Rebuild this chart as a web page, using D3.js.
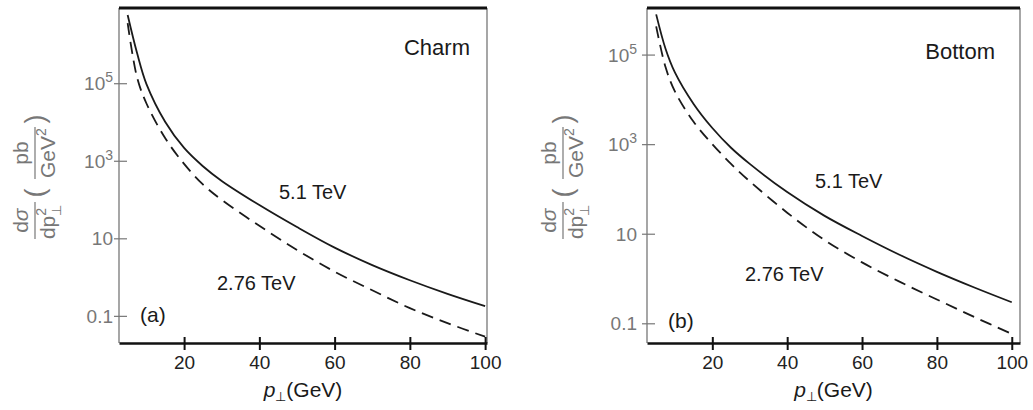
<!DOCTYPE html>
<html>
<head>
<meta charset="utf-8">
<script src="https://cdn.jsdelivr.net/npm/d3@7"></script>
<style>
  html, body { margin: 0; padding: 0; background: #fff; }
  svg { display: block; font-family: "Liberation Sans", Arial, sans-serif; }
</style>
</head>
<body>
<svg id="chart" width="1033" height="410"></svg>
<script>
// transverse momentum grid (GeV)
const pT = [5, 7.5, 10, 15, 20, 25, 30, 40, 50, 60, 70, 80, 90, 100];

// d sigma / d pT^2 (pb / GeV^2)
const charm51  = [5.75e6, 6.0e5, 9.5e4, 1.0e4, 2.14e3, 724, 302, 72, 19.5, 5.75, 2.04, 0.83, 0.37, 0.178];
const charm276 = [3.55e6, 1.41e5, 3.0e4, 3.8e3, 830, 245, 98, 21, 5.0, 1.38, 0.457, 0.158, 0.065, 0.029];
const bottom51  = [7.9e5, 1.35e5, 4.0e4, 7.9e3, 2.29e3, 832, 363, 85, 25, 8.9, 3.39, 1.41, 0.63, 0.295];
const bottom276 = [4.27e5, 5.25e4, 1.51e4, 3.16e3, 1.0e3, 363, 148, 29.5, 7.2, 2.29, 0.85, 0.34, 0.138, 0.058];

const xTicks = [20, 40, 60, 80, 100];
const yTicks = [0.1, 10, 1e3, 1e5];
const yTickBase = ['0.1', '10', '10', '10'];
const yTickExp = ['', '', '3', '5'];

const panels = [
  {
    left: 119, right: 487, top: 8, bottom: 343,
    xDomain: [2.7, 100.5], yDomain: [Math.pow(10, -1.70), Math.pow(10, 6.94)],
    solid: charm51, dashed: charm276,
    name: 'Charm', namePos: [470, 55],
    hiPos: [279, 199], loPos: [217, 290],
    tag: '(a)', tagPos: [140, 322],
    yLabelX: 113, yTitleX: 34
  },
  {
    left: 647, right: 1020, top: 8, bottom: 343,
    xDomain: [2.55, 102.2], yDomain: [Math.pow(10, -1.44), Math.pow(10, 6.04)],
    solid: bottom51, dashed: bottom276,
    name: 'Bottom', namePos: [995, 59],
    hiPos: [815, 188], loPos: [745, 281],
    tag: '(b)', tagPos: [668, 328],
    yLabelX: 637, yTitleX: 562
  }
];

const svg = d3.select('#chart');
const grey = '#777';
const ink = '#1a1a1a';

panels.forEach((cfg, i) => {
  const x = d3.scaleLinear().domain(cfg.xDomain).range([cfg.left, cfg.right]);
  const y = d3.scaleLog().domain(cfg.yDomain).range([cfg.bottom, cfg.top]);
  const g = svg.append('g');

  // clip for curves
  g.append('clipPath').attr('id', 'clip' + i)
    .append('rect')
    .attr('x', cfg.left).attr('y', cfg.top)
    .attr('width', cfg.right - cfg.left).attr('height', cfg.bottom - cfg.top);

  // curves
  const line = d3.line()
    .x(d => x(d[0]))
    .y(d => y(d[1]))
    .curve(d3.curveCatmullRom.alpha(0.5));

  g.append('path')
    .datum(pT.map((p, k) => [p, cfg.solid[k]]))
    .attr('clip-path', `url(#clip${i})`)
    .attr('d', line)
    .attr('fill', 'none')
    .attr('stroke', ink)
    .attr('stroke-width', 1.8);

  g.append('path')
    .datum(pT.map((p, k) => [p, cfg.dashed[k]]))
    .attr('clip-path', `url(#clip${i})`)
    .attr('d', line)
    .attr('fill', 'none')
    .attr('stroke', ink)
    .attr('stroke-width', 1.8)
    .attr('stroke-dasharray', '12,7');

  // frame: thin grey sides, heavy top and bottom
  g.append('line')
    .attr('x1', cfg.left).attr('x2', cfg.left)
    .attr('y1', cfg.top).attr('y2', cfg.bottom)
    .attr('stroke', grey).attr('stroke-width', 1.3);
  g.append('line')
    .attr('x1', cfg.right).attr('x2', cfg.right)
    .attr('y1', cfg.top).attr('y2', cfg.bottom)
    .attr('stroke', grey).attr('stroke-width', 1.3);
  g.append('line')
    .attr('x1', cfg.left).attr('x2', cfg.right)
    .attr('y1', cfg.top).attr('y2', cfg.top)
    .attr('stroke', '#111').attr('stroke-width', 3);

  // x axis
  const xAxisG = g.append('g')
    .attr('transform', `translate(0,${cfg.bottom})`)
    .call(d3.axisBottom(x).tickValues(xTicks).tickSizeInner(7).tickSizeOuter(0).tickPadding(8));
  xAxisG.select('.domain').attr('stroke', '#111').attr('stroke-width', 2.6);
  xAxisG.selectAll('.tick line')
    .attr('y1', -6).attr('y2', 7)
    .attr('stroke', '#111').attr('stroke-width', 2);
  xAxisG.selectAll('.tick text').remove();
  xAxisG.selectAll('.tick').append('text')
    .attr('y', 369 - cfg.bottom)
    .attr('text-anchor', 'middle')
    .attr('fill', '#222')
    .style('font-size', '19px')
    .style('font-family', 'inherit')
    .text(d => d);

  // y axis ticks
  const yAxisG = g.append('g')
    .attr('transform', `translate(${cfg.left},0)`)
    .call(d3.axisLeft(y).tickValues(yTicks).tickSizeInner(5).tickSizeOuter(0).tickFormat(''));
  yAxisG.select('.domain').remove();
  yAxisG.selectAll('.tick line')
    .attr('x1', -5).attr('x2', 8)
    .attr('stroke', grey).attr('stroke-width', 1.2);

  // y tick labels with superscripts
  yTicks.forEach((v, k) => {
    const t = g.append('text')
      .attr('x', cfg.yLabelX)
      .attr('y', y(v) + 7)
      .attr('text-anchor', 'end')
      .attr('fill', grey)
      .style('font-size', '19px')
      .text(yTickBase[k]);
    if (yTickExp[k]) {
      t.append('tspan')
        .attr('dy', -8)
        .style('font-size', '14px')
        .text(yTickExp[k]);
    }
  });

  // x axis title
  const xt = g.append('text')
    .attr('x', (cfg.left + cfg.right) / 2)
    .attr('y', 397)
    .attr('text-anchor', 'middle')
    .attr('fill', ink)
    .style('font-size', '21px');
  xt.append('tspan').style('font-style', 'italic').text('p');
  xt.append('tspan').attr('dy', 4).style('font-size', '13px').text('\u22A5');
  xt.append('tspan').attr('dy', -4).text('(GeV)');

  // y axis title: d sigma / d p^2 ( pb / GeV^2 )
  const yt = g.append('g')
    .attr('transform', `translate(${cfg.yTitleX},177) rotate(-90)`)
    .attr('fill', grey)
    .style('font-size', '21px');

  const num1 = yt.append('text').attr('y', -6);
  num1.append('tspan').text('d');
  num1.append('tspan').style('font-style', 'italic').text('\u03C3');
  const den1 = yt.append('text').attr('y', 21);
  den1.append('tspan').text('dp');
  den1.append('tspan').attr('dy', -9).style('font-size', '14px').text('2');
  den1.append('tspan').attr('dx', -8).attr('dy', 15).style('font-size', '13px').text('\u22A5');

  const num2 = yt.append('text').attr('y', -6).text('pb');
  const den2 = yt.append('text').attr('y', 21);
  den2.append('tspan').text('GeV');
  den2.append('tspan').attr('dy', -9).style('font-size', '14px').text('2');

  const centre = (sel, cx) => {
    const w = sel.node().getBBox().width;
    sel.attr('x', cx - w / 2);
    return w;
  };
  centre(num1, -43);
  centre(den1, -45);
  centre(num2, 24);
  const wGeV = centre(den2, 24);

  yt.append('line')
    .attr('x1', -62).attr('x2', -25).attr('y1', 1).attr('y2', 1)
    .attr('stroke', grey).attr('stroke-width', 1.2);
  yt.append('line')
    .attr('x1', 24 - wGeV / 2 - 1).attr('x2', 24 + wGeV / 2 + 1).attr('y1', 1).attr('y2', 1)
    .attr('stroke', grey).attr('stroke-width', 1.2);
  yt.append('text').attr('x', -16).attr('y', 10).attr('text-anchor', 'middle')
    .style('font-size', '27px').text('(');
  yt.append('text').attr('x', 58).attr('y', 10).attr('text-anchor', 'middle')
    .style('font-size', '27px').text(')');

  // in-plot labels
  g.append('text')
    .attr('x', cfg.namePos[0]).attr('y', cfg.namePos[1])
    .attr('text-anchor', 'end')
    .attr('fill', ink)
    .style('font-size', '22px')
    .text(cfg.name);
  g.append('text')
    .attr('x', cfg.hiPos[0]).attr('y', cfg.hiPos[1])
    .attr('fill', ink)
    .style('font-size', '20px')
    .text('5.1 TeV');
  g.append('text')
    .attr('x', cfg.loPos[0]).attr('y', cfg.loPos[1])
    .attr('fill', ink)
    .style('font-size', '20px')
    .text('2.76 TeV');
  g.append('text')
    .attr('x', cfg.tagPos[0]).attr('y', cfg.tagPos[1])
    .attr('fill', ink)
    .style('font-size', '21px')
    .text(cfg.tag);
});
</script>
</body>
</html>
